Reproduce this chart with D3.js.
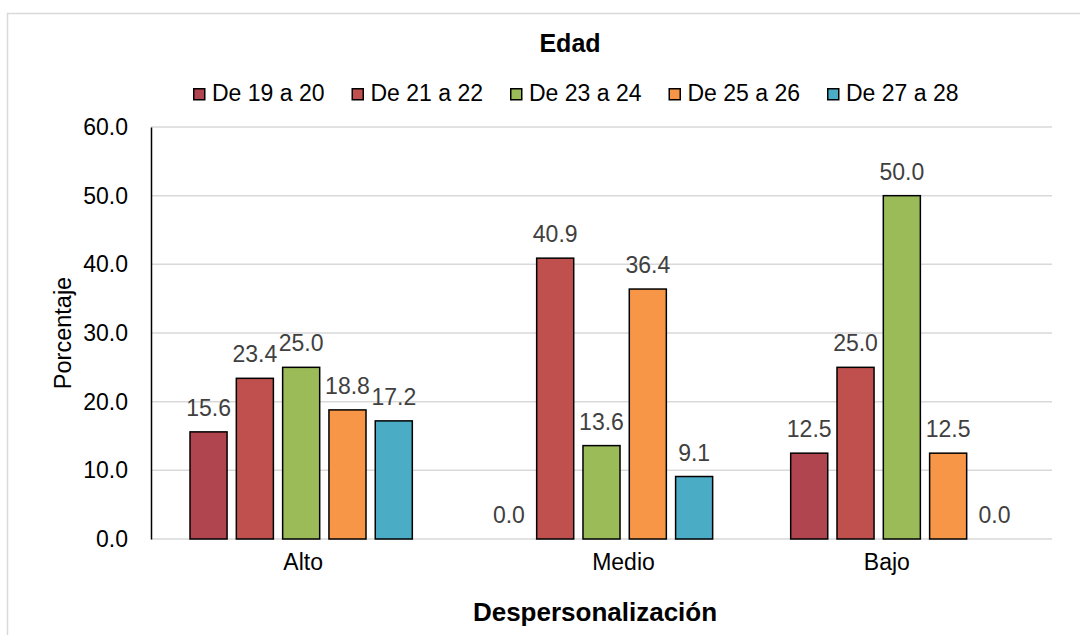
<!DOCTYPE html>
<html>
<head>
<meta charset="utf-8">
<script src="https://cdn.jsdelivr.net/npm/d3@7"></script>
<style>
  body { margin: 0; background: #fff; }
  text { font-family: "Liberation Sans", Arial, sans-serif; }
</style>
</head>
<body>
<script>
// data
const categories = ["Alto", "Medio", "Bajo"];
const series = ["De 19 a 20", "De 21 a 22", "De 23 a 24", "De 25 a 26", "De 27 a 28"];
const values19a20 = [15.6, 0.0, 12.5];
const values21a22 = [23.4, 40.9, 25.0];
const values23a24 = [25.0, 13.6, 50.0];
const values25a26 = [18.8, 36.4, 12.5];
const values27a28 = [17.2, 9.1, 0.0];
const yTicks = [0, 10, 20, 30, 40, 50, 60];
const colors = ["#B0454F", "#C0504D", "#9BBB59", "#F79646", "#4BACC6"];

const allValues = [values19a20, values21a22, values23a24, values25a26, values27a28];

// the original's category labels sit a little off their group centres
const tickShift = { "Alto": 2, "Medio": 22, "Bajo": -15 };

const width = 1080, height = 635;
const margin = { top: 127, right: 28, bottom: 96, left: 151 };

const svg = d3.select("body").append("svg")
    .attr("width", width)
    .attr("height", height);

// outer chart border (cropped on right/bottom)
svg.append("rect")
    .attr("x", 7.5).attr("y", 13.5)
    .attr("width", 1100).attr("height", 700)
    .attr("fill", "none")
    .attr("stroke", "#D9D9D9")
    .attr("stroke-width", 1.5);

const x0 = d3.scaleBand()
    .domain(categories)
    .range([margin.left, width - margin.right])
    .paddingInner(0.229)
    .paddingOuter(0.1145);

const x1 = d3.scaleBand()
    .domain(series)
    .range([0, x0.bandwidth()])
    .paddingInner(0.2)
    .paddingOuter(0.1);

const y = d3.scaleLinear()
    .domain([0, 60])
    .range([height - margin.bottom, margin.top]);

// gridlines
svg.append("g")
    .selectAll("line")
    .data(yTicks)
    .enter().append("line")
    .attr("x1", margin.left)
    .attr("x2", width - margin.right)
    .attr("y1", d => y(d))
    .attr("y2", d => y(d))
    .attr("stroke", "#D9D9D9")
    .attr("stroke-width", 1.5);

// y axis
const yAxis = svg.append("g")
    .attr("transform", `translate(${margin.left},0)`)
    .call(d3.axisLeft(y).tickValues(yTicks).tickFormat(d3.format(".1f")).tickSize(0).tickPadding(23));
yAxis.select(".domain").attr("stroke", "#000").attr("stroke-width", 1.5);
yAxis.selectAll("text")
    .attr("font-size", 23)
    .attr("fill", "#000")
    .style("font-family", "'Liberation Sans', Arial, sans-serif");

// x axis labels
const xAxis = svg.append("g")
    .attr("transform", `translate(0,${height - margin.bottom})`)
    .call(d3.axisBottom(x0).tickSize(0).tickPadding(15));
xAxis.select(".domain").remove();
xAxis.selectAll("text")
    .attr("font-size", 23)
    .attr("fill", "#000")
    .attr("dy", "0.71em")
    .attr("dx", d => tickShift[d])
    .style("font-family", "'Liberation Sans', Arial, sans-serif");

// bars
const rows = [];
series.forEach((s, i) => {
    categories.forEach((c, j) => {
        rows.push({ series: s, cat: c, value: allValues[i][j], color: colors[i] });
    });
});

svg.append("g")
    .selectAll("rect")
    .data(rows.filter(d => d.value > 0))
    .enter().append("rect")
    .attr("x", d => x0(d.cat) + x1(d.series))
    .attr("y", d => y(d.value))
    .attr("width", x1.bandwidth())
    .attr("height", d => y(0) - y(d.value))
    .attr("fill", d => d.color)
    .attr("stroke", "#000")
    .attr("stroke-width", 1.5);

// data labels
svg.append("g")
    .selectAll("text")
    .data(rows)
    .enter().append("text")
    .attr("x", d => x0(d.cat) + x1(d.series) + x1.bandwidth() / 2)
    .attr("y", d => y(d.value) - 16)
    .attr("text-anchor", "middle")
    .attr("font-size", 23)
    .attr("fill", "#404040")
    .text(d => d.value.toFixed(1));

// title
svg.append("text")
    .attr("x", 570)
    .attr("y", 52)
    .attr("text-anchor", "middle")
    .attr("font-size", 25)
    .attr("font-weight", "bold")
    .text("Edad");

// legend
const legend = svg.append("g")
    .selectAll("g")
    .data(series)
    .enter().append("g")
    .attr("transform", (d, i) => `translate(${193 + i * 158.5},0)`);

legend.append("rect")
    .attr("x", 0.75).attr("y", 88.75)
    .attr("width", 11).attr("height", 11)
    .attr("fill", (d, i) => colors[i])
    .attr("stroke", "#000")
    .attr("stroke-width", 1.5);

legend.append("text")
    .attr("x", 19)
    .attr("y", 101)
    .attr("font-size", 23)
    .attr("fill", "#000")
    .text(d => d);

// axis titles
svg.append("text")
    .attr("x", 595)
    .attr("y", 621)
    .attr("text-anchor", "middle")
    .attr("font-size", 26)
    .attr("font-weight", "bold")
    .text("Despersonalización");

svg.append("text")
    .attr("transform", "translate(70.5,333) rotate(-90)")
    .attr("text-anchor", "middle")
    .attr("font-size", 23.5)
    .attr("fill", "#000")
    .text("Porcentaje");
</script>
</body>
</html>
